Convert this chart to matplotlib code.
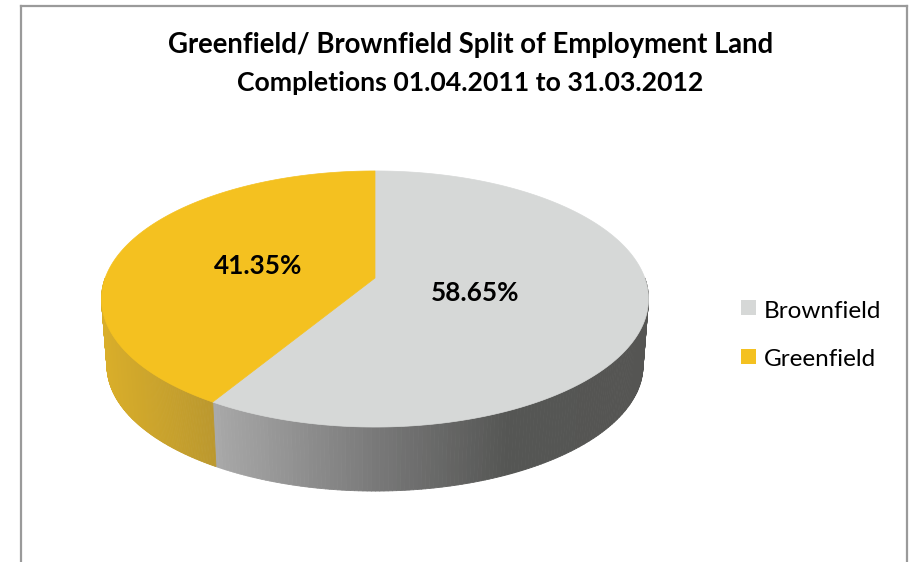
# -*- coding: utf-8 -*-
"""
Greenfield / brownfield split of employment land, drawn as a tilted 3D pie
"""

import numpy as np
from matplotlib import pyplot as plt
from matplotlib.collections import PolyCollection
from matplotlib.colors import LinearSegmentedColormap
from matplotlib.patches import Polygon, Rectangle

categories = ['Brownfield', 'Greenfield']
shares = [58.65, 41.35]
top_colors = ['#d6d8d7', '#f4c120']

title_lines = ['Greenfield/ Brownfield Split of Employment Land', 'Completions 01.04.2011 to 31.03.2012']

plt.rcParams['font.family'] = ['Lato', 'DejaVu Sans']

# pie geometry in pixels
cx, cy = 375., 278.
rx, ry = 269.8, 124.6
persp = 0.164
depth = 67.
shrink = 0.98

# side shading by screen x
brown_side = LinearSegmentedColormap.from_list('brown', [(0, '#a9a9a9'), (0.38, '#787878'), (0.68, '#555654'), (1, '#555553')])
green_side = LinearSegmentedColormap.from_list('green', [(0, '#d9ae2a'), (1, '#bb982e')])


def project(theta, lower=False):
    # theta is clockwise from the top of the pie
    u = np.sin(theta)
    v = -np.cos(theta)
    s = 1. / (1. - persp * v)
    k = shrink if lower else 1.
    return cx + k * rx * u * s, cy + k * ry * v * s + (depth if lower else 0.)


fig = plt.figure(figsize=(9.10, 5.62), dpi=100)
ax = fig.add_axes([0, 0, 1, 1])
ax.set_xlim(0, 910)
ax.set_ylim(562, 0)
ax.axis('off')

# chart frame, open at the bottom
ax.plot([21, 21], [562, 6], c='#9a9a9a', lw=1.6)
ax.plot([21, 907], [6, 6], c='#9a9a9a', lw=1.6)
ax.plot([907, 907], [6, 562], c='#9a9a9a', lw=1.6)

edges = np.concatenate(([0.], np.cumsum(shares))) / sum(shares) * 2 * np.pi

# side walls first, only the part facing the viewer
for i, cmap in enumerate([brown_side, green_side]):
    start = max(edges[i], np.pi / 2)
    stop = min(edges[i + 1], 3 * np.pi / 2)
    th = np.linspace(start, stop, 160)
    xt, yt = project(th)
    xb, yb = project(th, lower=True)
    quads = [[(xt[j], yt[j]), (xt[j + 1], yt[j + 1]), (xb[j + 1], yb[j + 1]), (xb[j], yb[j])] for j in range(len(th) - 1)]
    mid = (xt[:-1] + xt[1:]) / 2
    pos = (mid - xt.min()) / (xt.max() - xt.min())
    ax.add_collection(PolyCollection(quads, facecolors=cmap(pos), edgecolors=cmap(pos), linewidths=0.6))

# top face
for i in range(len(shares)):
    th = np.linspace(edges[i], edges[i + 1], 200)
    xt, yt = project(th)
    pts = np.column_stack((np.append(xt, cx), np.append(yt, cy)))
    ax.add_patch(Polygon(pts, closed=True, fc=top_colors[i], ec=top_colors[i], lw=0.5))

ax.text(475.5, 301, '%.2f%%' % shares[0], ha='center', va='baseline', fontsize=18.8, fontweight='bold', color='black')
ax.text(258.5, 274, '%.2f%%' % shares[1], ha='center', va='baseline', fontsize=18.8, fontweight='bold', color='black')

ax.text(471, 53, title_lines[0], ha='center', va='baseline', fontsize=19.8, fontweight='bold', color='black')
ax.text(470, 91, title_lines[1], ha='center', va='baseline', fontsize=19.2, fontweight='bold', color='black')

# legend
for name, col, y, base in zip(categories, top_colors, [307.5, 356], [318, 366]):
    ax.add_patch(Rectangle((741, y - 7.5), 15, 15, fc=col, ec='none'))
    ax.text(764, base, name, ha='left', va='baseline', fontsize=17.5, color='black')

fig.savefig('out.png', dpi=100)
